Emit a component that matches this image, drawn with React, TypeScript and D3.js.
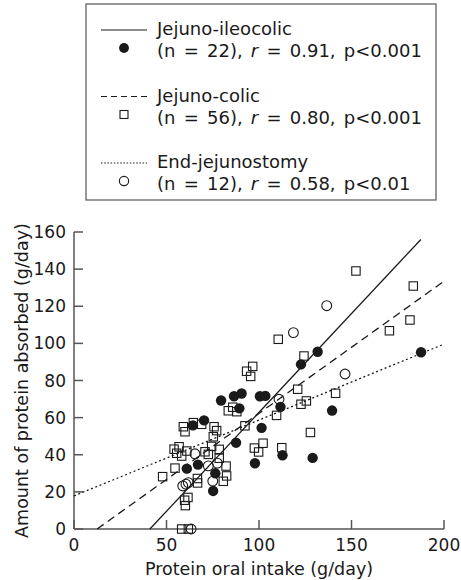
import React from 'react'
import * as d3 from 'd3'

// points: [protein intake, protein absorbed] g/day
const ileocolic: [number, number][] = [
	[61, 32.5], [67, 34.7], [64.3, 55.8], [70.3, 58.5], [76.4, 30], [75.2, 20.5],
	[79.5, 69.2], [86.5, 71.5], [90.6, 73], [89.4, 65], [87.6, 46.5], [97.8, 35.4],
	[100.5, 71.5], [103.4, 71.7], [101.4, 54.5], [112.7, 39.7], [111.6, 65.8],
	[122.7, 88.7], [131.7, 95.5], [139.5, 63.8], [129, 38.3], [187.6, 95.2],
]

const colic: [number, number][] = [
	[152.4, 139], [183.4, 130.9], [181.6, 112.6], [170.5, 106.8], [110.4, 102.2],
	[124.3, 93.2], [96.6, 87.6], [93.3, 85], [95.5, 82.2], [120.9, 75.3],
	[141.4, 73.1], [125.6, 69], [122.7, 67.2], [109.5, 61.2], [127.8, 52],
	[102.2, 46.2], [97.5, 43.6], [99.8, 41.5], [112.3, 43.8], [83.4, 63.7],
	[85.8, 65.6], [88, 63.2], [92.4, 55.6], [59.1, 55.1], [60, 52.4], [64.5, 57.3],
	[69, 56.4], [75.7, 55.1], [77.1, 53], [54.1, 43], [56.8, 44.3], [61, 42],
	[58.2, 39.3], [55.5, 40.8], [74.4, 44.5], [72.6, 40.2], [78.5, 42.9],
	[82.2, 33.9], [82.5, 28.6], [80.7, 25.7], [78.5, 38.1], [54.6, 32.8],
	[47.9, 28.2], [66.7, 27.2], [66.8, 24.8], [61.6, 17], [59.8, 15.5],
	[60.2, 12.6], [58.2, 0], [61.8, 0], [70.8, 41.6], [75.3, 49.7],
]

const endJejunostomy: [number, number][] = [
	[58.8, 23.2], [60.5, 24.2], [61.8, 25], [63.3, 0], [65.4, 40.5], [72.6, 34],
	[77.5, 35.5], [75, 25.8], [110.8, 69.9], [118.6, 105.8], [136.6, 120.3],
	[146.5, 83.5],
]

// regression lines: slope, intercept, x range
const fits = [
	{ key: 'ileocolic', slope: 1.065, intercept: -43.7, from: 41, to: 187.5, dash: 'none' },
	{ key: 'colic', slope: 0.712, intercept: -8.9, from: 12.5, to: 200, dash: '8,5' },
	{ key: 'end', slope: 0.409, intercept: 17.8, from: 0, to: 200, dash: '2,2.6' },
]

const xTicks = [0, 50, 100, 150, 200]
const yTicks = [0, 20, 40, 60, 80, 100, 120, 140, 160]

const legendRows = [
	{ name: 'Jejuno-ileocolic', n: 22, r: '0.91', p: 'p<0.001', dash: 'none', marker: 'dot' },
	{ name: 'Jejuno-colic', n: 56, r: '0.80', p: 'p<0.001', dash: '6,4', marker: 'square' },
	{ name: 'End-jejunostomy', n: 12, r: '0.58', p: 'p<0.01', dash: '1.5,1.7', marker: 'circle' },
]

const font = "'DejaVu Sans', sans-serif"
const ink = '#1a1a1a'
const axisGrey = '#555'

export default function App() {
	const x = d3.scaleLinear().domain([0, 200]).range([74, 444])
	const y = d3.scaleLinear().domain([0, 160]).range([529, 232])
	const lineGen = d3
		.line<number>()
		.x((d) => x(d))

	const marker = (type: string, cx: number, cy: number, k: string | number, s = 1) => {
		if (type === 'dot') return <circle key={k} cx={cx} cy={cy} r={5.2 * s} fill={ink} />
		if (type === 'square') {
			const h = 4.2 * s
			return (
				<rect key={k} x={cx - h} y={cy - h} width={h * 2} height={h * 2} fill="none" stroke={ink} strokeWidth={1.1} />
			)
		}
		return <circle key={k} cx={cx} cy={cy} r={4.9 * s} fill="none" stroke={ink} strokeWidth={1.1} />
	}

	return (
		<svg width={461} height={580} style={{ position: 'absolute', left: 0, top: 0, background: '#fff' }} fontFamily={font}>
			{/* legend */}
			<rect x={86} y={4} width={350} height={196} fill="none" stroke={axisGrey} strokeWidth={1.2} />
			{legendRows.map((row, i) => {
				const top = 30 + i * 66.5
				return (
					<g key={row.name}>
						<line x1={101} x2={147} y1={top} y2={top} stroke={ink} strokeWidth={1.2} strokeDasharray={row.dash} />
						{marker(row.marker, 124, top + 18, 'm' + i, 0.95)}
						<text x={157} y={top + 5} fontSize={18} fill={ink}>{row.name}</text>
						<text x={157} y={top + 27} fontSize={18} wordSpacing={2.5} fill={ink}>
							(n = {row.n}), <tspan fontStyle="italic">r</tspan> = {row.r}, {row.p}
						</text>
					</g>
				)
			})}

			{/* axes */}
			<line x1={x(0)} x2={x(200)} y1={y(0)} y2={y(0)} stroke={axisGrey} strokeWidth={1.5} />
			<line x1={x(0)} x2={x(0)} y1={y(0)} y2={y(160)} stroke={axisGrey} strokeWidth={1.5} />
			{xTicks.map((t) => (
				<g key={'x' + t}>
					<line x1={x(t)} x2={x(t)} y1={y(0)} y2={y(0) - 9} stroke={axisGrey} strokeWidth={1.5} />
					<text x={x(t)} y={551} fontSize={17} textAnchor="middle" fill={ink}>{t}</text>
				</g>
			))}
			{yTicks.map((t) => (
				<g key={'y' + t}>
					<line x1={x(0)} x2={x(0) + 9} y1={y(t)} y2={y(t)} stroke={axisGrey} strokeWidth={1.5} />
					<text x={66} y={y(t) + 6} fontSize={17} textAnchor="end" fill={ink}>{t}</text>
				</g>
			))}
			<text x={(x(0) + x(200)) / 2} y={575} fontSize={17.5} textAnchor="middle" fill={ink}>
				Protein oral intake (g/day)
			</text>
			<text
				transform={`translate(28, ${(y(0) + y(160)) / 2}) rotate(-90)`}
				fontSize={17.5}
				textAnchor="middle"
				fill={ink}
			>
				Amount of protein absorbed (g/day)
			</text>

			{/* regression lines */}
			{fits.map((f) => (
				<path
					key={f.key}
					d={lineGen.y((d) => y(f.slope * d + f.intercept))([f.from, f.to]) || ''}
					fill="none"
					stroke={ink}
					strokeWidth={1.3}
					strokeDasharray={f.dash}
				/>
			))}

			{/* points */}
			{colic.map((d, i) => marker('square', x(d[0]), y(d[1]), 'c' + i))}
			{endJejunostomy.map((d, i) => marker('circle', x(d[0]), y(d[1]), 'e' + i))}
			{ileocolic.map((d, i) => marker('dot', x(d[0]), y(d[1]), 'i' + i))}
		</svg>
	)
}
